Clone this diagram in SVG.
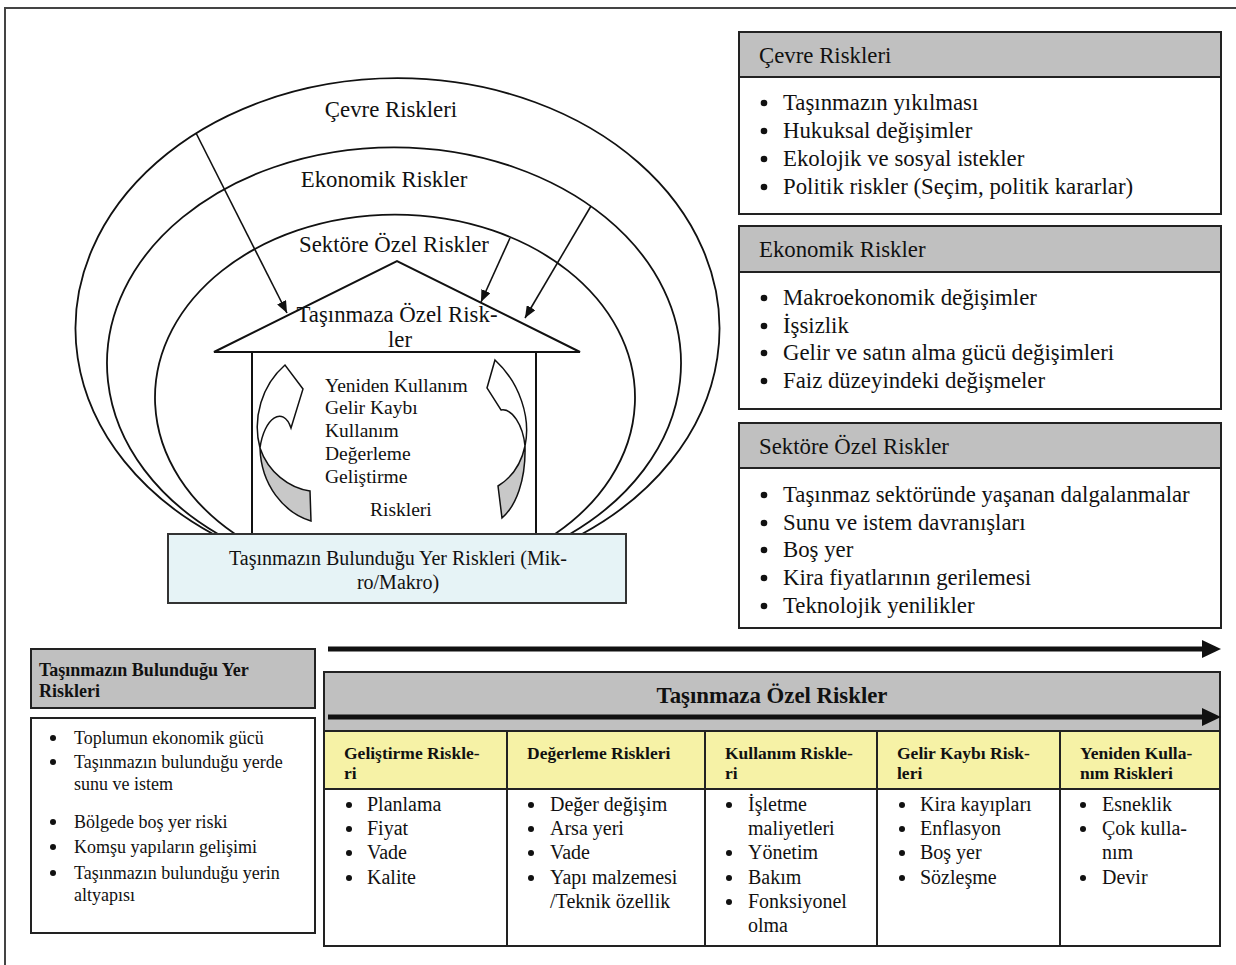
<svg xmlns="http://www.w3.org/2000/svg" width="1236" height="965" viewBox="0 0 1236 965">
<style>
.t{font-family:"Liberation Serif","Times New Roman",serif;fill:#111}
.c{text-anchor:middle}
.b{font-weight:bold}
.s22{font-size:22.8px}
.s20{font-size:20px}
.s19{font-size:19.5px}
.s18{font-size:18px}
.line{fill:none;stroke:#111;stroke-width:1.8}
.box{fill:#fff;stroke:#222;stroke-width:2}
.hdr{fill:#c0c0c0;stroke:#222;stroke-width:2}
.yel{fill:#f6f2a6;stroke:#222;stroke-width:2}
.dot{fill:#111}
.conn{stroke:#111;stroke-width:1.6;fill:none}
.thick{stroke:#111;stroke-width:5;fill:none}
</style>
<defs>
<marker id="ah" viewBox="0 0 12 10" refX="12" refY="5" markerWidth="12" markerHeight="10" markerUnits="userSpaceOnUse" orient="auto">
<path d="M0,0 L12,5 L0,10 Z" fill="#111"/>
</marker>
</defs>
<rect x="5" y="8" width="1260" height="990" fill="#fff" stroke="#444" stroke-width="2"/>

<g id="ellipse-cevre">
<path class="line" d="M213,534 A322,250.5 0 1 1 582,534"/>
<text class="t s22 c" x="391" y="117">Çevre Riskleri</text>
</g>
<g id="ellipse-ekonomik">
<path class="line" d="M218,534 A287,216 0 1 1 570,534"/>
<text class="t s22 c" x="384" y="187">Ekonomik Riskler</text>
</g>
<g id="ellipse-sektor">
<path class="line" d="M235,534 A240,183 0 1 1 555,534"/>
<text class="t s22 c" x="394" y="252">Sektöre Özel Riskler</text>
</g>

<g id="house">
<path d="M214,352 L397,261 L580,352 Z" fill="#fff" stroke="#111" stroke-width="2"/>
<path d="M252,352 L252,534 M536,352 L536,534" stroke="#111" stroke-width="2" fill="none"/>
<text class="t s22 c" x="397" y="322">Taşınmaza Özel Risk-</text>
<text class="t s22 c" x="400" y="347">ler</text>
<text class="t s19" x="325" y="392">Yeniden Kullanım</text>
<text class="t s19" x="325" y="414">Gelir Kaybı</text>
<text class="t s19" x="325" y="437">Kullanım</text>
<text class="t s19" x="325" y="460">Değerleme</text>
<text class="t s19" x="325" y="483">Geliştirme</text>
<text class="t s19" x="370" y="516">Riskleri</text>
</g>

<g id="curved-arrow-left">
<path d="M260,448 C261,485 284,513 311,521 L310,491 C289,488 268,472 260,448 Z" fill="#c8c8c8" stroke="#111" stroke-width="1.5"/>
<path d="M260,448 C252,418 262,385 285,365 L303,389 L291,428 C283,405 264,418 260,448 Z" fill="#fff" stroke="#111" stroke-width="1.5"/>
</g>
<g id="curved-arrow-right">
<path d="M525,446 C526,480 516,506 502,518 L498,486 C511,478 521,465 525,446 Z" fill="#c8c8c8" stroke="#111" stroke-width="1.5"/>
<path d="M525,446 C531,418 520,383 495,360 L487,388 L501,410 C512,408 523,425 525,446 Z" fill="#fff" stroke="#111" stroke-width="1.5"/>
</g>

<g id="location-box">
<rect x="168" y="534" width="458" height="69" fill="#e6f3f6" stroke="#333" stroke-width="2"/>
<text class="t s20 c" x="398" y="565">Taşınmazın Bulunduğu Yer Riskleri (Mik-</text>
<text class="t s20 c" x="398" y="589">ro/Makro)</text>
</g>

<g id="connectors">
<line class="conn" x1="196" y1="133" x2="287" y2="313" marker-end="url(#ah)"/>
<line class="conn" x1="510" y1="238" x2="481" y2="302" marker-end="url(#ah)"/>
<line class="conn" x1="591" y1="206" x2="525" y2="318" marker-end="url(#ah)"/>
<line class="thick" x1="328" y1="649" x2="1204" y2="649"/>
<path d="M1202,640 L1221,649 L1202,658 Z" fill="#111"/>
</g>

<g id="box-cevre">
<rect class="box" x="739" y="32" width="482" height="182"/>
<rect class="hdr" x="739" y="32" width="482" height="45"/>
<text class="t s22" x="759" y="63">Çevre Riskleri</text>
<circle class="dot" cx="764" cy="103" r="3.3"/><text class="t s22" x="783" y="110">Taşınmazın yıkılması</text>
<circle class="dot" cx="764" cy="131" r="3.3"/><text class="t s22" x="783" y="138">Hukuksal değişimler</text>
<circle class="dot" cx="764" cy="159" r="3.3"/><text class="t s22" x="783" y="166">Ekolojik ve sosyal istekler</text>
<circle class="dot" cx="764" cy="187" r="3.3"/><text class="t s22" x="783" y="194">Politik riskler (Seçim, politik kararlar)</text>
</g>

<g id="box-ekonomik">
<rect class="box" x="739" y="226" width="482" height="183"/>
<rect class="hdr" x="739" y="226" width="482" height="46"/>
<text class="t s22" x="759" y="257">Ekonomik Riskler</text>
<circle class="dot" cx="764" cy="298" r="3.3"/><text class="t s22" x="783" y="305">Makroekonomik değişimler</text>
<circle class="dot" cx="764" cy="326" r="3.3"/><text class="t s22" x="783" y="333">İşsizlik</text>
<circle class="dot" cx="764" cy="353" r="3.3"/><text class="t s22" x="783" y="360">Gelir ve satın alma gücü değişimleri</text>
<circle class="dot" cx="764" cy="381" r="3.3"/><text class="t s22" x="783" y="388">Faiz düzeyindeki değişmeler</text>
</g>

<g id="box-sektor">
<rect class="box" x="739" y="423" width="482" height="205"/>
<rect class="hdr" x="739" y="423" width="482" height="45"/>
<text class="t s22" x="759" y="454">Sektöre Özel Riskler</text>
<circle class="dot" cx="764" cy="495" r="3.3"/><text class="t s22" x="783" y="502">Taşınmaz sektöründe yaşanan dalgalanmalar</text>
<circle class="dot" cx="764" cy="523" r="3.3"/><text class="t s22" x="783" y="530">Sunu ve istem davranışları</text>
<circle class="dot" cx="764" cy="550" r="3.3"/><text class="t s22" x="783" y="557">Boş yer</text>
<circle class="dot" cx="764" cy="578" r="3.3"/><text class="t s22" x="783" y="585">Kira fiyatlarının gerilemesi</text>
<circle class="dot" cx="764" cy="606" r="3.3"/><text class="t s22" x="783" y="613">Teknolojik yenilikler</text>
</g>

<g id="box-yer">
<rect class="hdr" x="31" y="649" width="284" height="59"/>
<text class="t b" style="font-size:18px" x="39" y="676">Taşınmazın Bulunduğu Yer</text>
<text class="t b" style="font-size:18px" x="39" y="697">Riskleri</text>
<rect class="box" x="31" y="718" width="284" height="215"/>
<circle class="dot" cx="53" cy="738" r="3"/><text class="t s18" x="74" y="744">Toplumun ekonomik gücü</text>
<circle class="dot" cx="53" cy="762" r="3"/><text class="t s18" x="74" y="768">Taşınmazın bulunduğu yerde</text>
<text class="t s18" x="74" y="790">sunu ve istem</text>
<circle class="dot" cx="53" cy="822" r="3"/><text class="t s18" x="74" y="828">Bölgede boş yer riski</text>
<circle class="dot" cx="53" cy="847" r="3"/><text class="t s18" x="74" y="853">Komşu yapıların gelişimi</text>
<circle class="dot" cx="53" cy="873" r="3"/><text class="t s18" x="74" y="879">Taşınmazın bulunduğu yerin</text>
<text class="t s18" x="74" y="901">altyapısı</text>
</g>

<g id="table-ozel">
<rect class="hdr" x="324" y="672" width="896" height="59"/>
<text class="t b s22 c" x="772" y="703">Taşınmaza Özel Riskler</text>
<line class="thick" x1="328" y1="717" x2="1204" y2="717"/>
<path d="M1202,708 L1221,717 L1202,726 Z" fill="#111"/>
<rect class="yel" x="324" y="731" width="896" height="58"/>
<rect x="324" y="789" width="896" height="157" fill="#fff" stroke="#222" stroke-width="2"/>
<path d="M507,731 V946 M705,731 V946 M877,731 V946 M1060,731 V946" stroke="#222" stroke-width="2"/>
<g class="t b" style="font-size:17.5px">
<text x="344" y="759">Geliştirme  Riskle-</text><text x="344" y="779">ri</text>
<text x="527" y="759">Değerleme Riskleri</text>
<text x="725" y="759">Kullanım Riskle-</text><text x="725" y="779">ri</text>
<text x="897" y="759">Gelir Kaybı Risk-</text><text x="897" y="779">leri</text>
<text x="1080" y="759">Yeniden Kulla-</text><text x="1080" y="779">nım Riskleri</text>
</g>
<g class="t s20">
<text x="367" y="811">Planlama</text><text x="367" y="835">Fiyat</text><text x="367" y="859">Vade</text><text x="367" y="884">Kalite</text>
<text x="550" y="811">Değer değişim</text><text x="550" y="835">Arsa yeri</text><text x="550" y="859">Vade</text><text x="550" y="884">Yapı malzemesi</text><text x="550" y="908">/Teknik özellik</text>
<text x="748" y="811">İşletme</text><text x="748" y="835">maliyetleri</text><text x="748" y="859">Yönetim</text><text x="748" y="884">Bakım</text><text x="748" y="908">Fonksiyonel</text><text x="748" y="932">olma</text>
<text x="920" y="811">Kira kayıpları</text><text x="920" y="835">Enflasyon</text><text x="920" y="859">Boş yer</text><text x="920" y="884">Sözleşme</text>
<text x="1102" y="811">Esneklik</text><text x="1102" y="835">Çok kulla-</text><text x="1102" y="859">nım</text><text x="1102" y="884">Devir</text>
</g>
<g class="dot">
<circle cx="349" cy="805" r="3"/><circle cx="349" cy="829" r="3"/><circle cx="349" cy="853" r="3"/><circle cx="349" cy="878" r="3"/>
<circle cx="531" cy="805" r="3"/><circle cx="531" cy="829" r="3"/><circle cx="531" cy="853" r="3"/><circle cx="531" cy="878" r="3"/>
<circle cx="729" cy="805" r="3"/><circle cx="729" cy="853" r="3"/><circle cx="729" cy="878" r="3"/><circle cx="729" cy="902" r="3"/>
<circle cx="902" cy="805" r="3"/><circle cx="902" cy="829" r="3"/><circle cx="902" cy="853" r="3"/><circle cx="902" cy="878" r="3"/>
<circle cx="1083" cy="805" r="3"/><circle cx="1083" cy="829" r="3"/><circle cx="1083" cy="878" r="3"/>
</g>
</g>
</svg>
